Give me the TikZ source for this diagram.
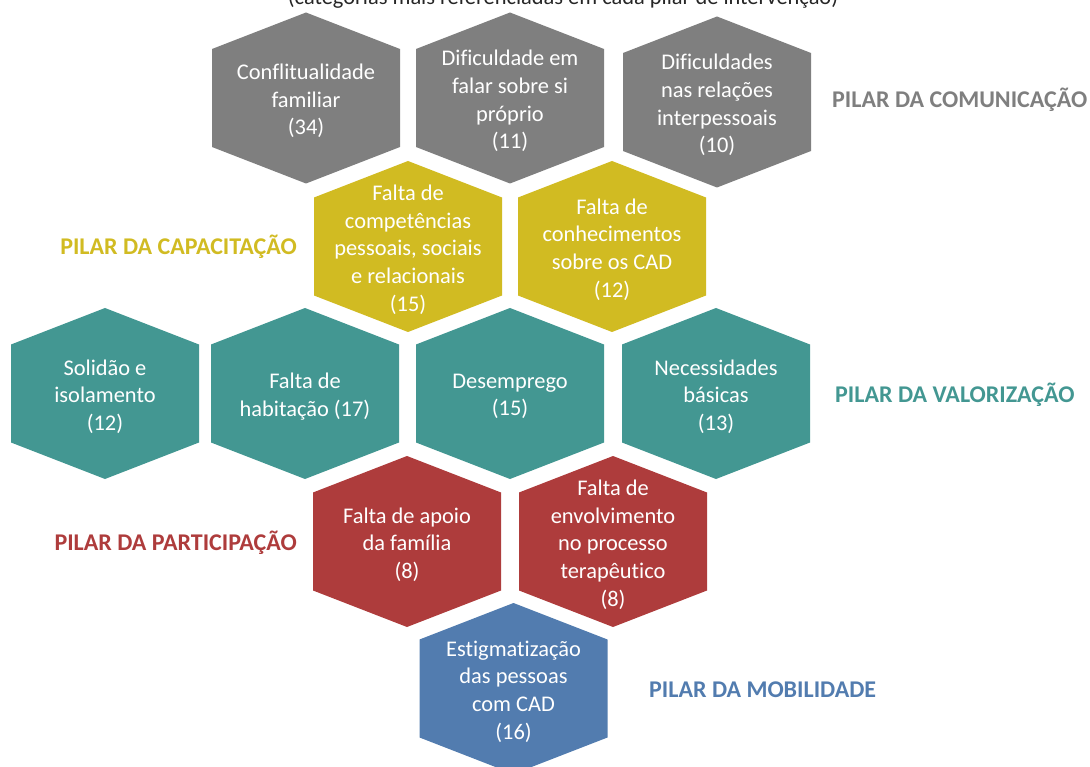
\documentclass[tikz,border=0pt]{standalone}
\usepackage{fontspec}
\setmainfont{Carlito}[Ligatures=NoCommon]
\definecolor{cgray}{HTML}{7F7F7F}
\definecolor{cyellow}{HTML}{D1BB22}
\definecolor{cteal}{HTML}{439792}
\definecolor{cred}{HTML}{AE3C3C}
\definecolor{cblue}{HTML}{527CAF}
\definecolor{ctitle}{HTML}{262626}
\tikzset{
  hextext/.style={text=white, align=center, inner sep=0pt, yshift=-3pt,
    font=\fontsize{22.4}{27.7}\selectfont},
  pillab/.style={inner sep=0pt, font=\fontsize{24}{28}\selectfont\bfseries},
}
\newcommand{\hexcell}[5]{%
  \path[fill=#4] (#2,#3) ++(-94,-49) -- ++(94,-36.5) -- ++(94,36.5)
    -- ++(0,98) -- ++(-94,36.5) -- ++(-94,-36.5) -- cycle;
  \node[hextext] (#1) at (#2,#3) {#5};%
}
\begin{document}
\begin{tikzpicture}[x=1pt,y=-1pt]
\useasboundingbox (0,0) rectangle (1090,767);
\node[anchor=base, text=ctitle, inner sep=0pt, font=\fontsize{22.4}{27}\selectfont] (title) at (563,5)
  {(categorias mais referenciadas em cada pilar de intervenção)};
% row 1
\hexcell{h1}{306}{98}{cgray}{Conflitualidade\\familiar\\(34)}
\hexcell{h2}{510}{98}{cgray}{Dificuldade em\\falar sobre si\\próprio\\(11)}
\hexcell{h3}{717}{102}{cgray}{Dificuldades\\nas relações\\interpessoais\\(10)}
% row 2
\hexcell{h4}{408}{246.5}{cyellow}{Falta de\\competências\\pessoais, sociais\\e relacionais\\(15)}
\hexcell{h5}{612}{246.5}{cyellow}{Falta de\\conhecimentos\\sobre os CAD\\(12)}
% row 3
\hexcell{h6}{105}{393.5}{cteal}{Solidão e\\isolamento\\(12)}
\hexcell{h7}{305}{393.5}{cteal}{Falta de\\habitação (17)}
\hexcell{h8}{510}{393.5}{cteal}{Desemprego\\(15)}
\hexcell{h9}{716}{393.5}{cteal}{Necessidades\\básicas\\(13)}
% row 4
\hexcell{h10}{407}{541.5}{cred}{Falta de apoio\\da família\\(8)}
\hexcell{h11}{613}{541.5}{cred}{Falta de\\envolvimento\\no processo\\terapêutico\\(8)}
% row 5
\hexcell{h12}{513.5}{688.5}{cblue}{Estigmatização\\das pessoas\\com CAD\\(16)}
% labels
\node[pillab, text=cgray, anchor=base west] (lcom) at (832,107.5) {PILAR DA COMUNICAÇÃO};
\node[pillab, text=cyellow, anchor=base east] (lcap) at (297,254.5) {PILAR DA CAPACITAÇÃO};
\node[pillab, text=cteal, anchor=base west] (lval) at (835,402.5) {PILAR DA VALORIZAÇÃO};
\node[pillab, text=cred, anchor=base east] (lpar) at (297,550.5) {PILAR DA PARTICIPAÇÃO};
\node[pillab, text=cblue, anchor=base west] (lmob) at (649,697.5) {PILAR DA MOBILIDADE};
\end{tikzpicture}
\end{document}
